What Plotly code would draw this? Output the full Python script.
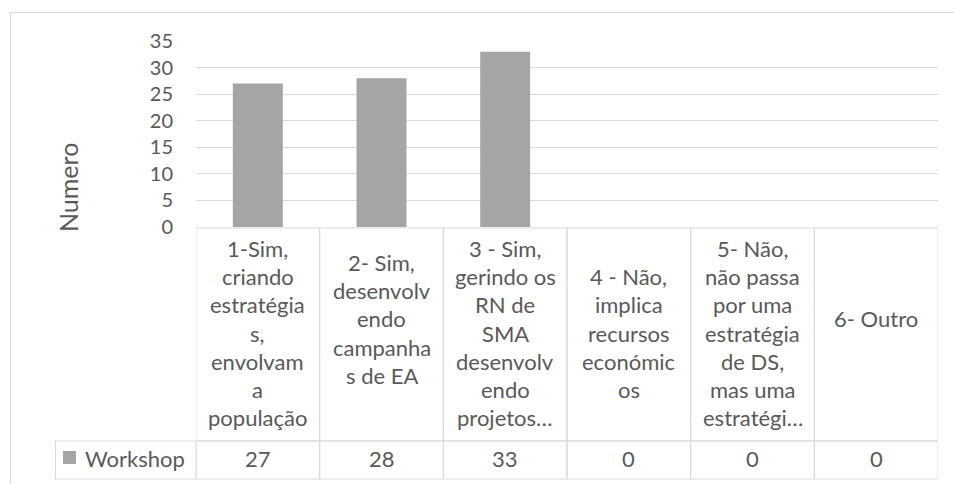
import plotly.graph_objects as go

# data
categories = [
    "1-Sim,\ncriando\nestratégia\ns,\nenvolvam\na\npopulação",
    "2- Sim,\ndesenvolv\nendo\ncampanha\ns de EA\n",
    "3 - Sim,\ngerindo os\nRN de\nSMA\ndesenvolv\nendo\nprojetos…",
    "4 - Não,\nimplica\nrecursos\neconómic\nos",
    "5- Não,\nnão passa\npor uma\nestratégia\nde DS,\nmas uma\nestratégi…",
    "6- Outro\n",
]
series_name = "Workshop"
workshop = [27, 28, 33, 0, 0, 0]
y_ticks = [0, 5, 10, 15, 20, 25, 30, 35]

FONT = "Lato"
TEXT = "#595959"
GRID = "#D9D9D9"
BAR = "#A5A5A5"
FS = 22

W, H = 954, 484
L, R, T, B = 196, 16, 41, 257
bottom_px = H - B  # pixel row of the plot bottom


def dy(px):
    # pixel row -> offset from plot bottom (positive up)
    return bottom_px - px


def dx(px):
    # pixel column -> offset from plot left
    return px - L


fig = go.Figure()
fig.add_trace(go.Bar(
    x=list(range(len(categories))), y=workshop, name=series_name,
    marker=dict(color=BAR, line=dict(width=0)),
    hoverinfo="y",
))

shapes = []
annotations = []
n = len(categories)

# outer chart border (only top/left visible in the reference)
shapes.append(dict(
    type="rect", xref="paper", yref="paper",
    xsizemode="pixel", ysizemode="pixel", xanchor=0, yanchor=0,
    x0=dx(10.5), x1=dx(W + 10), y0=dy(12.5), y1=dy(H + 10),
    line=dict(color=GRID, width=1), layer="below",
))

# header cells and value cells of the data table
for i in range(n):
    for top, bot in [(228, 441), (441, 479)]:
        shapes.append(dict(
            type="rect", xref="x", yref="paper",
            ysizemode="pixel", yanchor=0,
            x0=i - 0.5, x1=i + 0.5, y0=dy(top), y1=dy(bot),
            line=dict(color=GRID, width=1), layer="above",
        ))

# legend cell on the left of the value row
shapes.append(dict(
    type="rect", xref="paper", yref="paper",
    xsizemode="pixel", ysizemode="pixel", xanchor=0, yanchor=0,
    x0=dx(55.5), x1=0, y0=dy(441), y1=dy(479),
    line=dict(color=GRID, width=1),
))
shapes.append(dict(
    type="rect", xref="paper", yref="paper",
    xsizemode="pixel", ysizemode="pixel", xanchor=0, yanchor=0,
    x0=dx(63), x1=dx(76), y0=dy(451), y1=dy(464),
    fillcolor=BAR, line=dict(width=0),
))
annotations.append(dict(
    text=series_name, xref="paper", yref="paper", x=0, y=0,
    xshift=dx(83), yshift=dy(458), xanchor="left", yanchor="middle",
    showarrow=False, font=dict(family=FONT, size=FS, color=TEXT),
))

# category labels, one annotation per wrapped line
pitch = 28.3
for i, label in enumerate(categories):
    lines = label.split("\n")
    start = 333 - pitch * (len(lines) - 1) / 2
    for j, line in enumerate(lines):
        if not line:
            continue
        annotations.append(dict(
            text=line, xref="x", yref="paper", x=i, y=0,
            yshift=dy(start + pitch * j), xanchor="center", yanchor="middle",
            showarrow=False, font=dict(family=FONT, size=FS, color=TEXT),
        ))

# values row
for i, v in enumerate(workshop):
    annotations.append(dict(
        text=str(v), xref="x", yref="paper", x=i, y=0,
        yshift=dy(458), xanchor="center", yanchor="middle",
        showarrow=False, font=dict(family=FONT, size=FS, color=TEXT),
    ))

# axis title
annotations.append(dict(
    text="Numero", xref="paper", yref="paper", x=0, y=0,
    xshift=dx(68), yshift=dy(188), textangle=-90,
    xanchor="center", yanchor="middle", showarrow=False,
    font=dict(family=FONT, size=25, color=TEXT),
))

fig.update_layout(
    width=W, height=H,
    margin=dict(l=L, r=R, t=T, b=B, autoexpand=False),
    paper_bgcolor="white", plot_bgcolor="white",
    showlegend=False, bargap=0.596,
    font=dict(family=FONT, size=FS, color=TEXT),
    shapes=shapes, annotations=annotations,
    xaxis=dict(
        range=[-0.5, n - 0.5], showticklabels=False, showgrid=False,
        zeroline=False, showline=False, ticks="", fixedrange=True,
    ),
    yaxis=dict(
        range=[0, 35], tickvals=y_ticks, showgrid=True, gridcolor=GRID,
        gridwidth=1, zeroline=False, showline=False, ticks="",
        ticklabelstandoff=22, tickfont=dict(family=FONT, size=20, color=TEXT),
        fixedrange=True,
    ),
)

fig.write_html(
    "out.html",
    config={"displayModeBar": False},
    post_script="document.body.style.margin='0';",
)
